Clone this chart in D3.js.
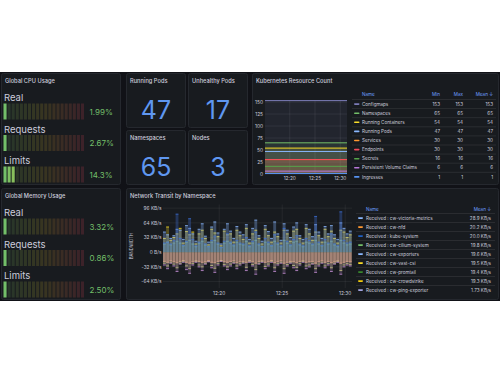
<!doctype html>
<html lang="en">
<head>
  <meta charset="utf-8">
  <title>Kubernetes Cluster Overview</title>
  <script src="https://cdn.jsdelivr.net/npm/d3@7"></script>
  <style>
    body { margin: 0; background: #fff; }
    svg text { font-family: Inter, "Open Sans", sans-serif; }
  </style>
</head>
<body>
<svg id="dash" width="500" height="375"></svg>
<script>

// ---- data ----
var gaugeLabels = ["Real", "Requests", "Limits"];
var cpuValues = [1.99, 2.67, 14.3];
var memValues = [3.32, 0.86, 2.50];

var statTitles = ["Running Pods", "Unhealthy Pods", "Namespaces", "Nodes"];
var statValues = [47, 17, 65, 3];

var resNames = ["Configmaps", "Namespaces", "Running Containers", "Running Pods", "Services",
  "Endpoints", "Secrets", "Persistent Volume Claims", "Ingresses"];
var resMin = [153, 65, 54, 47, 30, 30, 16, 6, 1];
var resMax = [153, 65, 54, 47, 30, 30, 16, 6, 1];
var resMean = [153, 65, 54, 47, 30, 30, 16, 6, 1];
var resColors = ["#7c7cb8", "#73bf69", "#fade2a", "#8ab8ff", "#ff9830", "#f2495c", "#56a64b", "#b877d9", "#5794f2"];
var resTicks = [0, 25, 50, 75, 100, 125, 150];

var netNames = ["Received : cw-victoria-metrics", "Received : cw-nfd", "Received : kube-system",
  "Received : cw-cilium-system", "Received : cw-exporters", "Received : cw-vast-csi",
  "Received : cw-promtail", "Received : cw-crowdstrike", "Received : cw-ping-exporter"];
var netMeans = ["28.9 KB/s", "20.2 KB/s", "20.0 KB/s", "19.8 KB/s", "19.6 KB/s", "19.5 KB/s",
  "19.4 KB/s", "19.3 KB/s", "1.73 KB/s"];
var netColors = ["#8ab8ff", "#ff9830", "#1f60c4", "#73bf69", "#8ab8ff", "#fade2a", "#37872d", "#f2cc0c", "#a3a3e0"];
var netTicks = [-64, -32, 0, 32, 64, 96];

// KB/s, one value every 15 s from 12:15:40
var recvKube = [20, 22, 18, 25, 83, 30, 15, 24, 73, 28, 14, 22, 30, 18, 12, 26, 35, 20, 10, 24,
  40, 22, 16, 26, 20, 18, 32, 14, 24, 44, 18, 12, 30, 22, 15, 38, 20, 14, 52, 24,
  16, 28, 36, 18, 14, 30, 26, 18, 78, 22, 15, 28, 20, 40, 18, 14, 88, 26, 20, 22];
var recvVictoria = [44, 38, 30, 36, 50, 48, 28, 58, 52, 40, 24, 50, 62, 35, 22, 55, 66, 42, 18, 50,
  62, 46, 30, 56, 44, 38, 60, 28, 52, 70, 36, 24, 58, 45, 30, 66, 40, 26, 62, 48,
  32, 55, 64, 36, 28, 60, 50, 34, 60, 44, 30, 56, 40, 58, 38, 28, 64, 52, 40, 46];
var recvVast = [30, 55, 26, 32, 40, 52, 20, 45, 38, 44, 18, 40, 48, 30, 16, 50, 42, 34, 14, 46,
  38, 40, 22, 48, 36, 28, 52, 20, 40, 48, 30, 18, 50, 36, 22, 44, 34, 20, 48, 40,
  24, 46, 50, 30, 20, 52, 40, 26, 44, 36, 22, 50, 34, 46, 30, 20, 48, 44, 32, 38];
var recvCilium = [18, 22, 16, 20, 24, 20, 14, 22, 26, 18, 12, 20, 24, 16, 12, 22, 26, 18, 10, 20,
  24, 20, 14, 22, 18, 16, 24, 12, 20, 26, 16, 12, 22, 18, 14, 24, 18, 12, 26, 20,
  14, 22, 24, 16, 12, 22, 20, 16, 26, 18, 14, 22, 18, 24, 16, 12, 26, 20, 16, 18];
var sentNfd = [-20, -22, -19, -21, -23, -20, -18, -22, -24, -21, -19, -20, -22, -21, -18, -22, -23, -20, -18, -21,
  -22, -20, -19, -23, -21, -20, -22, -18, -21, -24, -20, -19, -22, -21, -18, -23, -21, -19, -24, -22,
  -20, -21, -23, -20, -19, -22, -21, -20, -24, -21, -19, -22, -20, -23, -21, -19, -24, -22, -20, -21];
var sentPing = [-28, -36, -24, -30, -42, -26, -22, -38, -46, -28, -22, -32, -40, -26, -21, -34, -44, -28, -20, -30,
  -38, -30, -24, -36, -28, -24, -40, -22, -30, -48, -26, -22, -36, -30, -22, -42, -28, -24, -46, -30,
  -24, -34, -40, -28, -22, -36, -32, -26, -44, -30, -24, -34, -28, -42, -26, -22, -48, -32, -28, -30];
var sentExporters = [-24, -30, -22, -26, -34, -24, -20, -30, -36, -25, -20, -28, -32, -24, -20, -29, -35, -25, -19, -27,
  -32, -26, -22, -30, -25, -22, -33, -20, -27, -38, -24, -20, -31, -26, -20, -34, -25, -22, -36, -27,
  -22, -29, -33, -25, -20, -30, -28, -24, -36, -26, -22, -30, -25, -34, -24, -20, -40, -28, -25, -27];

var netSeries = [
  { values: sentNfd, color: "#f6a57c", op: 0.5 },
  { values: sentExporters, color: "#c8d66c", op: 0.25 },
  { values: sentPing, color: "#c58fd6", op: 0.25 },
  { values: recvCilium, color: "#73bf69", op: 0.3 },
  { values: recvVast, color: "#fade2a", op: 0.28 },
  { values: recvVictoria, color: "#8ab8ff", op: 0.32 },
  { values: recvKube, color: "#3d71d9", op: 0.32 }
];

var startTime = new Date(2024, 0, 1, 12, 15, 40);
var times = recvKube.map(function(d, i) { return new Date(+startTime + i * 15000); });

// ---- drawing ----
var svg = d3.select("#dash");
var textCol = "#ccccdc";

svg.append("rect").attr("x", 0).attr("y", 72).attr("width", 500).attr("height", 229).attr("fill", "#111217");

function panel(x, y, w, h, title) {
  var g = svg.append("g");
  g.append("rect").attr("x", x + 0.5).attr("y", y + 0.5).attr("width", w - 1).attr("height", h - 1)
    .attr("rx", 2).attr("fill", "#181b1f").attr("stroke", "#25282e");
  g.append("text").attr("x", x + 4).attr("y", y + 10).attr("fill", textCol)
    .style("font-size", "5.7px").style("font-weight", 500).text(title);
  return g;
}

function fmtPct(v) { return (v >= 10 ? v.toFixed(1) : v.toFixed(2)) + "%"; }

var cellColor = d3.scaleLinear().domain([0, 0.5, 1]).range(["#73bf69", "#d9b92a", "#f2495c"]);

function gauges(g, values, top) {
  var nCells = 20, barX = 3.5, barW = 81.5, cw = barW / nCells;
  values.forEach(function(v, i) {
    var base = top + i * 31.5;
    g.append("text").attr("x", 4).attr("y", base).attr("fill", textCol)
      .style("font-size", "9.5px").text(gaugeLabels[i]);
    var by = base + 2.5;
    d3.range(nCells).forEach(function(c) {
      var lit = v > c * (100 / nCells);
      g.append("rect").attr("x", barX + c * cw).attr("y", by).attr("width", cw - 1).attr("height", 16)
        .attr("fill", cellColor(c / (nCells - 1))).attr("opacity", lit ? 1 : 0.17);
    });
    g.append("text").attr("x", 89.5).attr("y", by + 11).attr("fill", "#73bf69")
      .style("font-size", "8px").text(fmtPct(v));
  });
}

var cpu = panel(1, 73, 120, 112, "Global CPU Usage");
gauges(cpu, cpuValues, 101);
var mem = panel(1, 188, 120, 112, "Global Memory Usage");
gauges(mem, memValues, 216);

// stat panels
var statBox = [[126, 73], [188, 73], [126, 130], [188, 130]];
statValues.forEach(function(v, i) {
  var p = statBox[i];
  var g = panel(p[0], p[1], 60, 55, statTitles[i]);
  g.append("text").attr("x", p[0] + 30).attr("y", p[1] + 45.5).attr("text-anchor", "middle")
    .attr("fill", "#5f97f0").style("font-size", "25px").text(v);
});

// Kubernetes resource count
var k8s = panel(252, 73, 247, 112, "Kubernetes Resource Count");
var kx = d3.scaleTime().domain([new Date(2024, 0, 1, 12, 15, 6), new Date(2024, 0, 1, 12, 31, 20)]).range([265, 347]);
var ky = d3.scaleLinear().domain([0, 153]).range([174, 100.6]);

resTicks.forEach(function(t) {
  k8s.append("line").attr("x1", 265).attr("x2", 347).attr("y1", ky(t)).attr("y2", ky(t))
    .attr("stroke", "#ffffff").attr("stroke-opacity", 0.07);
  k8s.append("text").attr("x", 263).attr("y", ky(t) + 1.7).attr("text-anchor", "end")
    .attr("fill", textCol).style("font-size", "4.8px").text(t);
});
var kTimeTicks = [new Date(2024, 0, 1, 12, 20), new Date(2024, 0, 1, 12, 25), new Date(2024, 0, 1, 12, 30)];
kTimeTicks.forEach(function(t) {
  k8s.append("line").attr("x1", kx(t)).attr("x2", kx(t)).attr("y1", 100.6).attr("y2", 174)
    .attr("stroke", "#ffffff").attr("stroke-opacity", 0.07);
  k8s.append("text").attr("x", kx(t)).attr("y", 180).attr("text-anchor", "middle")
    .attr("fill", textCol).style("font-size", "4.8px").text(d3.timeFormat("%H:%M")(t));
});

var kArea = d3.area().x(function(d) { return kx(d.t); }).y0(ky(0)).y1(function(d) { return ky(d.v); });
var kLine = d3.line().x(function(d) { return kx(d.t); }).y(function(d) { return ky(d.v); });
resMean.forEach(function(v, i) {
  var pts = kx.domain().map(function(t) { return { t: t, v: v }; });
  k8s.append("path").datum(pts).attr("d", kArea).attr("fill", resColors[i]).attr("fill-opacity", 0.1);
  k8s.append("path").datum(pts).attr("d", kLine).attr("fill", "none").attr("stroke", resColors[i]).attr("stroke-width", 1);
});

// legend table
var kHead = 95.5;
k8s.append("text").attr("x", 362).attr("y", kHead).attr("fill", "#6e9fff").style("font-size", "4.6px").text("Name");
[["Min", 440], ["Max", 463], ["Mean \u2193", 493]].forEach(function(h) {
  k8s.append("text").attr("x", h[1]).attr("y", kHead).attr("text-anchor", "end").attr("fill", "#6e9fff")
    .style("font-size", "4.6px").text(h[0]);
});
resNames.forEach(function(n, i) {
  var cy = 104 + i * 9.1;
  k8s.append("line").attr("x1", 352).attr("x2", 496).attr("y1", cy - 4.5).attr("y2", cy - 4.5)
    .attr("stroke", "#ffffff").attr("stroke-opacity", 0.08);
  k8s.append("rect").attr("x", 354).attr("y", cy - 0.7).attr("width", 5.5).attr("height", 1.6)
    .attr("rx", 0.8).attr("fill", resColors[i]);
  k8s.append("text").attr("x", 362).attr("y", cy + 1.7).attr("fill", textCol).style("font-size", "4.6px").text(n);
  [[resMin[i], 440], [resMax[i], 463], [resMean[i], 493]].forEach(function(c) {
    k8s.append("text").attr("x", c[1]).attr("y", cy + 1.7).attr("text-anchor", "end").attr("fill", textCol)
      .style("font-size", "4.6px").text(c[0]);
  });
});

// network transit
var net = panel(126, 188, 373, 112, "Network Transit by Namespace");
var nx = d3.scaleTime().domain([new Date(+startTime - 7500), new Date(+times[times.length - 1] + 7500)]).range([163, 352]);
var ny = d3.scaleLinear().domain([-78, 104]).range([288, 204.5]);
var kbFmt = function(v) { return v === 0 ? "0 B/s" : v + " KB/s"; };

netTicks.forEach(function(t) {
  net.append("line").attr("x1", 163).attr("x2", 352).attr("y1", ny(t)).attr("y2", ny(t))
    .attr("stroke", "#ffffff").attr("stroke-opacity", 0.06);
  net.append("text").attr("x", 161.5).attr("y", ny(t) + 1.7).attr("text-anchor", "end")
    .attr("fill", textCol).style("font-size", "4.8px").text(kbFmt(t));
});
var nTimeTicks = [new Date(2024, 0, 1, 12, 20), new Date(2024, 0, 1, 12, 25), new Date(2024, 0, 1, 12, 30)];
nTimeTicks.forEach(function(t) {
  net.append("line").attr("x1", nx(t)).attr("x2", nx(t)).attr("y1", 204.5).attr("y2", 288)
    .attr("stroke", "#ffffff").attr("stroke-opacity", 0.06);
  net.append("text").attr("x", nx(t)).attr("y", 295).attr("text-anchor", "middle")
    .attr("fill", textCol).style("font-size", "4.8px").text(d3.timeFormat("%H:%M")(t));
});
net.append("text").attr("transform", "translate(132.5,246) rotate(-90)").attr("text-anchor", "middle")
  .attr("fill", textCol).style("font-size", "4.3px").text("BANDWIDTH");

var slot = nx(times[1]) - nx(times[0]);
netSeries.forEach(function(s) {
  var g = net.append("g");
  s.values.forEach(function(v, i) {
    var x0 = nx(times[i]) - slot / 2;
    var y0 = Math.min(ny(0), ny(v)), h = Math.abs(ny(v) - ny(0));
    g.append("rect").attr("x", x0).attr("y", y0).attr("width", slot - 0.3).attr("height", h)
      .attr("fill", s.color).attr("fill-opacity", s.op);
    g.append("line").attr("x1", x0).attr("x2", x0 + slot - 0.3).attr("y1", ny(v)).attr("y2", ny(v))
      .attr("stroke", s.color).attr("stroke-width", 0.8);
  });
});

var nHead = 210.5;
net.append("text").attr("x", 366).attr("y", nHead).attr("fill", "#6e9fff").style("font-size", "4.6px").text("Name");
net.append("text").attr("x", 491).attr("y", nHead).attr("text-anchor", "end").attr("fill", "#6e9fff")
  .style("font-size", "4.6px").text("Mean \u2193");
netNames.forEach(function(n, i) {
  var cy = 218 + i * 9;
  net.append("line").attr("x1", 356).attr("x2", 495).attr("y1", cy - 4.5).attr("y2", cy - 4.5)
    .attr("stroke", "#ffffff").attr("stroke-opacity", 0.08);
  net.append("rect").attr("x", 358).attr("y", cy - 0.7).attr("width", 5).attr("height", 1.6)
    .attr("rx", 0.8).attr("fill", netColors[i]);
  net.append("text").attr("x", 366).attr("y", cy + 1.7).attr("fill", textCol).style("font-size", "4.6px").text(n);
  net.append("text").attr("x", 491).attr("y", cy + 1.7).attr("text-anchor", "end").attr("fill", textCol)
    .style("font-size", "4.6px").text(netMeans[i]);
});

</script>
</body>
</html>
